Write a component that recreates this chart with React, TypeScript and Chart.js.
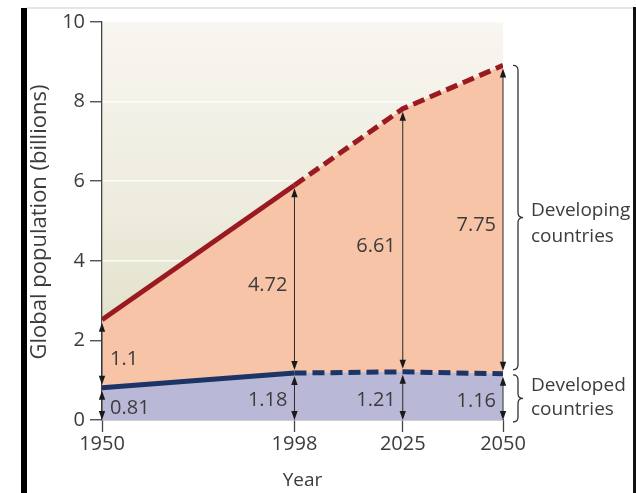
import React, { useEffect, useRef } from "react";
import { Chart, registerables } from "chart.js";

Chart.register(...registerables);

const years = [1950, 1998, 2025, 2050];
const developedValues = [0.81, 1.18, 1.21, 1.16];
const totalValues = [2.52, 5.9, 7.82, 8.91];
const developedLabels = ["0.81", "1.18", "1.21", "1.16"];
const developingLabels = ["1.1", "4.72", "6.61", "7.75"];
const yTicks = [0, 2, 4, 6, 8, 10];
const xTickYears = [1950, 1998, 2025, 2050];

const FONT = "'Open Sans', 'Noto Sans', sans-serif";
const TEXT = "#3c3c3c";

function arrow(ctx: CanvasRenderingContext2D, x: number, y1: number, y2: number) {
  const hl = 9, hw = 3.2;
  ctx.beginPath();
  ctx.moveTo(x, y1 - hl + 1);
  ctx.lineTo(x, y2 + hl - 1);
  ctx.stroke();
  ctx.beginPath();
  ctx.moveTo(x, y2);
  ctx.lineTo(x - hw, y2 + hl);
  ctx.lineTo(x + hw, y2 + hl);
  ctx.closePath();
  ctx.fill();
  ctx.beginPath();
  ctx.moveTo(x, y1);
  ctx.lineTo(x - hw, y1 - hl);
  ctx.lineTo(x + hw, y1 - hl);
  ctx.closePath();
  ctx.fill();
}

function brace(ctx: CanvasRenderingContext2D, x: number, yTop: number, yBot: number) {
  const w = 5;
  const mid = (yTop + yBot) / 2;
  ctx.beginPath();
  ctx.moveTo(x - w, yTop);
  ctx.quadraticCurveTo(x, yTop, x, yTop + w);
  ctx.lineTo(x, mid - w);
  ctx.quadraticCurveTo(x, mid, x + w, mid);
  ctx.quadraticCurveTo(x, mid, x, mid + w);
  ctx.lineTo(x, yBot - w);
  ctx.quadraticCurveTo(x, yBot, x - w, yBot);
  ctx.stroke();
}

const overlayPlugin = {
  id: "overlay",
  beforeDraw(chart: any) {
    const { ctx, chartArea } = chart;
    const g = ctx.createLinearGradient(0, chartArea.top, 0, chartArea.bottom);
    g.addColorStop(0, "#f8f6f0");
    g.addColorStop(0.5, "#ecebdc");
    g.addColorStop(1, "#d9d9bd");
    ctx.save();
    ctx.fillStyle = g;
    ctx.fillRect(chartArea.left, chartArea.top, chartArea.right - chartArea.left, chartArea.bottom - chartArea.top);
    ctx.restore();
  },
  afterDatasetsDraw(chart: any) {
    const { ctx } = chart;
    const xs = chart.scales.x;
    const ys = chart.scales.y;
    ctx.save();
    ctx.strokeStyle = "#2a2a2a";
    ctx.lineWidth = 1;
    ctx.font = `20px ${FONT}`;
    ctx.textBaseline = "middle";
    years.forEach((yr, i) => {
      const x = xs.getPixelForValue(yr);
      const y0 = ys.getPixelForValue(0);
      const yb = ys.getPixelForValue(developedValues[i]);
      const yt = ys.getPixelForValue(totalValues[i]);
      ctx.fillStyle = "#1a1a1a";
      arrow(ctx, x, y0, yb + 3);
      arrow(ctx, x, yb - 3, yt + 3);
      ctx.fillStyle = TEXT;
      const right = i === 0;
      ctx.textAlign = right ? "left" : "right";
      const lx = right ? x + 8 : x - 7;
      ctx.fillText(developingLabels[i], lx, (yb + yt) / 2 + 6);
      ctx.fillText(developedLabels[i], lx, (y0 + yb) / 2 + 4);
    });
    const last = years.length - 1;
    const bx = xs.getPixelForValue(years[last]) + 15;
    const yTot = ys.getPixelForValue(totalValues[last]);
    const yDev = ys.getPixelForValue(developedValues[last]);
    const y0 = ys.getPixelForValue(0);
    ctx.strokeStyle = "#333";
    ctx.lineWidth = 1.3;
    brace(ctx, bx, yTot, yDev - 4);
    brace(ctx, bx, yDev + 1, y0 + 2);
    ctx.fillStyle = TEXT;
    ctx.textAlign = "left";
    ctx.font = `19px ${FONT}`;
    ctx.fillText("Developing", bx + 13, 211);
    ctx.fillText("countries", bx + 13, 237);
    ctx.fillText("Developed", bx + 13, 386);
    ctx.fillText("countries", bx + 13, 410);
    ctx.textAlign = "center";
    ctx.font = `19px ${FONT}`;
    ctx.fillText("Year", (chart.chartArea.left + chart.chartArea.right) / 2, 481);
    ctx.font = `22px ${FONT}`;
    ctx.translate(40, 222);
    ctx.rotate(-Math.PI / 2);
    ctx.fillText("Global population (billions)", 0, 0);
    ctx.restore();
  },
};

export default function App() {
  const ref = useRef<HTMLCanvasElement>(null);
  useEffect(() => {
    if (!ref.current) return;
    const chart = new Chart(ref.current, {
      type: "line",
      data: {
        datasets: [
          {
            label: "Developed countries",
            data: years.map((x, i) => ({ x, y: developedValues[i] })),
            borderColor: "#1c3466",
            backgroundColor: "#b9b9d7",
            borderWidth: 5,
            fill: "origin",
            pointRadius: 0,
            tension: 0,
            segment: {
              borderDash: (c: any) => (c.p0DataIndex >= 1 ? [12, 6] : undefined),
            },
          },
          {
            label: "Total",
            data: years.map((x, i) => ({ x, y: totalValues[i] })),
            borderColor: "#9a1a22",
            backgroundColor: "#f7c4a7",
            borderWidth: 5,
            fill: "-1",
            pointRadius: 0,
            tension: 0,
            segment: {
              borderDash: (c: any) => (c.p0DataIndex >= 1 ? [12, 6] : undefined),
            },
          },
        ],
      },
      options: {
        responsive: false,
        animation: false,
        devicePixelRatio: 1,
        layout: { padding: { top: 22, right: 133, left: 0, bottom: 0 } },
        plugins: { legend: { display: false }, tooltip: { enabled: false } },
        scales: {
          x: {
            type: "linear",
            min: 1950,
            max: 2050,
            afterFit: (s: any) => {
              s.height = 73;
            },
            afterBuildTicks: (s: any) => {
              s.ticks = xTickYears.map((v) => ({ value: v }));
            },
            grid: { drawOnChartArea: false, tickLength: 12, tickColor: "#444", tickWidth: 1.3 },
            border: { display: true, color: "#444", width: 1.3 },
            ticks: {
              color: TEXT,
              font: { family: FONT, size: 20 },
              padding: 0,
              maxRotation: 0,
              callback: (v: any) => String(v),
            },
          },
          y: {
            min: 0,
            max: 10,
            afterFit: (s: any) => {
              s.width = 102;
            },
            afterBuildTicks: (s: any) => {
              s.ticks = yTicks.map((v) => ({ value: v }));
            },
            grid: {
              color: "rgba(255,255,255,0.85)",
              lineWidth: 1.5,
              tickLength: 12,
              tickColor: "#444",
              tickWidth: 1.3,
            },
            border: { display: true, color: "#444", width: 1.3 },
            ticks: {
              color: TEXT,
              font: { family: FONT, size: 20 },
              padding: 5,
            },
          },
        },
      },
      plugins: [overlayPlugin],
    } as any);
    return () => chart.destroy();
  }, []);
  return (
    <div style={{ position: "fixed", left: 0, top: 0, width: 636, height: 493, background: "#fff", overflow: "hidden" }}>
      <canvas ref={ref} width={636} height={493} style={{ position: "absolute", left: 0, top: 0 }} />
      <div style={{ position: "absolute", left: 21, top: 8, width: 6, height: 485, background: "#000" }} />
      <div style={{ position: "absolute", left: 27, top: 7, width: 606, height: 2, background: "#e6e6e6" }} />
      <div style={{ position: "absolute", left: 633, top: 7, width: 3, height: 486, background: "#111" }} />
    </div>
  );
}
